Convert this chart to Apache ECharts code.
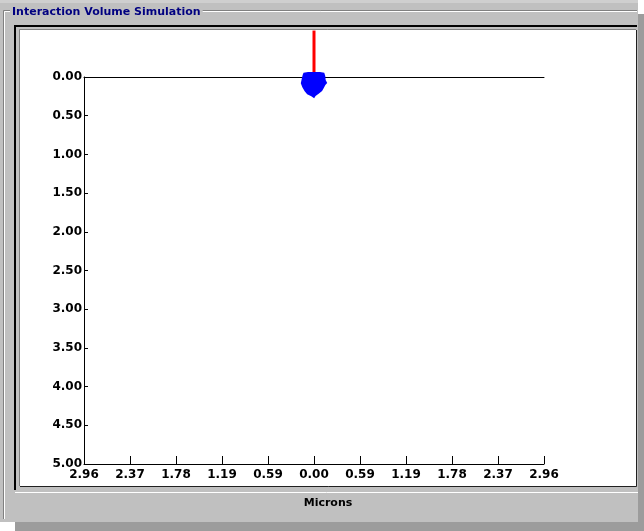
<!DOCTYPE html>
<html>
<head>
<meta charset="utf-8">
<script src="https://cdn.jsdelivr.net/npm/echarts@6/dist/echarts.min.js"></script>
<style>
  html, body { margin: 0; padding: 0; background: #ffffff; }
  #main { width: 644px; height: 531px; }
</style>
</head>
<body>
<div id="main"></div>
<script>
// axis ranges (microns)
var xMin = -2.96, xMax = 2.96, xStep = 0.592;
var yMin = 0, yMax = 5, yStep = 0.5;

var xTickLabels = ["2.96", "2.37", "1.78", "1.19", "0.59", "0.00", "0.59", "1.19", "1.78", "2.37", "2.96"];
var yTickLabels = ["0.00", "0.50", "1.00", "1.50", "2.00", "2.50", "3.00", "3.50", "4.00", "4.50", "5.00"];

// incoming beam (red)
var beamX = [0, 0];
var beamY = [-0.6, 0];

// outline of the interaction volume (blue)
var blobX = [-0.135, -0.077, 0.077, 0.132, 0.145, 0.150, 0.170, 0.146, 0.126, 0.104, 0.060, 0.020, 0.002, -0.035, -0.088, -0.120, -0.150, -0.170, -0.158, -0.146];
var blobY = [-0.056, -0.065, -0.065, -0.054, -0.013, 0.039, 0.078, 0.103, 0.142, 0.181, 0.218, 0.245, 0.275, 0.248, 0.222, 0.185, 0.132, 0.080, 0.026, -0.026];

var font = "DejaVu Sans";

var chart = echarts.init(document.getElementById("main"));

var option = {
  animation: false,
  backgroundColor: "#ffffff",
  graphic: [
    // drop shadow + window panel
    { type: "rect", shape: { x: 15, y: 14, width: 629, height: 517 }, style: { fill: "#9c9c9c" }, z: -10 },
    { type: "rect", shape: { x: 0, y: 0, width: 638, height: 522 }, style: { fill: "#c0c0c0" }, z: -9 },
    { type: "rect", shape: { x: 0, y: 0, width: 638, height: 3 }, style: { fill: "#cfcfcf" }, z: -9 },
    // group box
    { type: "polyline", shape: { points: [[3.5, 519], [3.5, 10.5], [637, 10.5]] }, style: { stroke: "#808080", lineWidth: 1, fill: null }, z: -8 },
    { type: "polyline", shape: { points: [[4.5, 519], [4.5, 11.5], [637, 11.5]] }, style: { stroke: "#ffffff", lineWidth: 1, fill: null }, z: -8 },
    {
      type: "text", x: 10, y: 12, z: -7,
      style: {
        text: "Interaction Volume Simulation", fill: "#000080",
        font: "bold 11px " + font, verticalAlign: "middle",
        backgroundColor: "#c0c0c0", padding: [1, 2]
      }
    },
    // sunken chart frame
    { type: "rect", shape: { x: 20, y: 30, width: 616, height: 456 }, style: { fill: "#ffffff" }, z: -7 },
    { type: "polyline", shape: { points: [[15, 490], [15, 26], [637, 26]] }, style: { stroke: "#000000", lineWidth: 2, fill: null }, z: -6 },
    { type: "polyline", shape: { points: [[19.5, 486], [19.5, 29.5], [636, 29.5]] }, style: { stroke: "#808080", lineWidth: 1, fill: null }, z: -6 },
    { type: "polyline", shape: { points: [[20, 486.5], [636.5, 486.5], [636.5, 30]] }, style: { stroke: "#202020", lineWidth: 1, fill: null }, z: -6 },
    { type: "line", shape: { x1: 15, y1: 492.5, x2: 638, y2: 492.5 }, style: { stroke: "#ffffff", lineWidth: 1 }, z: -6 },
    {
      type: "text", x: 328, y: 503, z: -5,
      style: {
        text: "Microns", fill: "#000000", font: "bold 11px " + font,
        align: "center", verticalAlign: "middle"
      }
    }
  ],
  grid: { left: 84, top: 77, width: 460, height: 387, containLabel: false },
  xAxis: [
    {
      type: "value", position: "bottom", min: xMin, max: xMax, interval: xStep,
      axisLine: { onZero: false, lineStyle: { color: "#000000", width: 1 } },
      axisTick: { show: true, inside: true, length: 8, lineStyle: { color: "#000000" } },
      splitLine: { show: false },
      axisLabel: {
        margin: 5, color: "#000000", fontFamily: font, fontWeight: "bold", fontSize: 12,
        showMinLabel: true, showMaxLabel: true,
        formatter: function (v) {
          return xTickLabels[Math.round((v - xMin) / xStep)];
        }
      }
    },
    {
      type: "value", position: "top", min: xMin, max: xMax, interval: xStep,
      axisLine: { onZero: false, lineStyle: { color: "#000000", width: 1 } },
      axisTick: { show: false },
      axisLabel: { show: false },
      splitLine: { show: false }
    }
  ],
  yAxis: {
    type: "value", inverse: true, min: yMin, max: yMax, interval: yStep,
    axisLine: { show: true, onZero: false, lineStyle: { color: "#000000", width: 1 } },
    axisTick: { show: true, inside: true, length: 4, lineStyle: { color: "#000000" } },
    splitLine: { show: false },
    axisLabel: {
      margin: 2, color: "#000000", fontFamily: font, fontWeight: "bold", fontSize: 12,
      showMinLabel: true, showMaxLabel: true,
      formatter: function (v) {
        return yTickLabels[Math.round((v - yMin) / yStep)];
      }
    }
  },
  series: [
    {
      type: "line",
      data: beamX.map(function (x, i) { return [x, beamY[i]]; }),
      symbol: "none",
      clip: false,
      lineStyle: { color: "#ff0000", width: 3 },
      z: 3
    },
    {
      type: "custom",
      clip: false,
      data: [[0, 0]],
      z: 4,
      renderItem: function (params, api) {
        var pts = blobX.map(function (x, i) { return api.coord([x, blobY[i]]); });
        return { type: "polygon", shape: { points: pts }, style: { fill: "#0000ff" } };
      }
    }
  ]
};

option && chart.setOption(option);
</script>
</body>
</html>
